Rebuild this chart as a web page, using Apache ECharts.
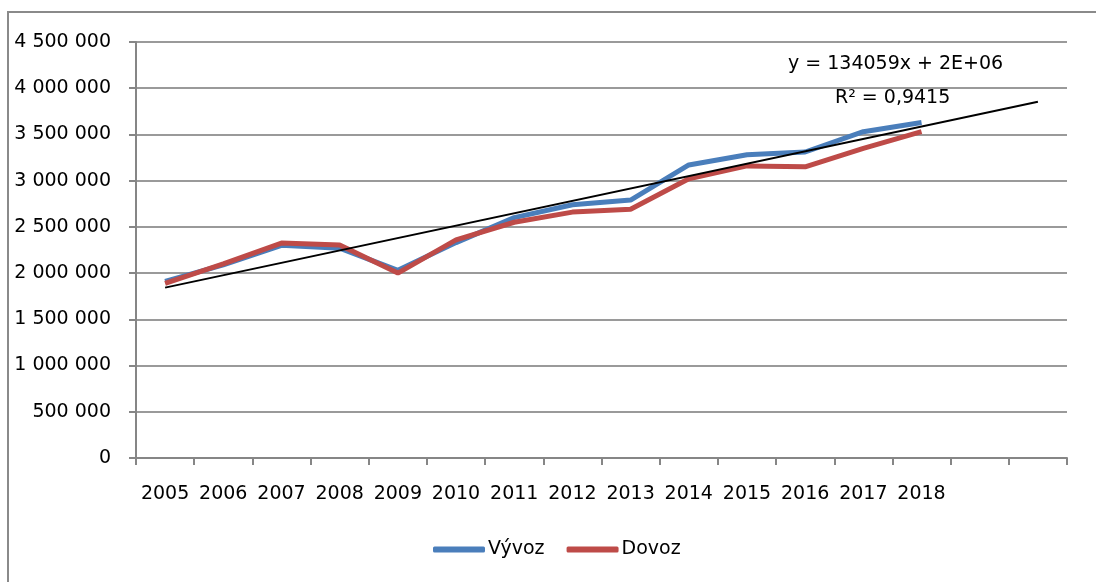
<!DOCTYPE html>
<html>
<head>
    <meta charset="utf-8">
    <title>Vývoz a dovoz</title>
    <script src="https://cdn.jsdelivr.net/npm/echarts@6/dist/echarts.min.js"></script>
    <style>
        html, body { margin: 0; padding: 0; background: #fff; }
    </style>
</head>
<body>
<div id="main" style="width: 1096px;height:582px;"></div>
<script type="text/javascript">
    // roky + dve prazdne pozice pro prodlouzeni trendu
    var years = ['2005', '2006', '2007', '2008', '2009', '2010', '2011', '2012', '2013', '2014', '2015', '2016', '2017', '2018', '', ''];
    var vyvoz = [1910000, 2090000, 2300000, 2270000, 2030000, 2330000, 2600000, 2740000, 2790000, 3170000, 3280000, 3310000, 3530000, 3630000];
    var dovoz = [1890000, 2100000, 2325000, 2305000, 2000000, 2360000, 2550000, 2660000, 2690000, 3020000, 3160000, 3150000, 3350000, 3530000];
    var trendSlope = 134059;
    var trendIntercept = 1709000;
    var trendLabel = ['y = 134059x + 2E+06', 'R² = 0,9415'];

    var font = 'DejaVu Sans';
    var gridColor = '#9a9a9a';

    function fmt(v) {
        return String(v).replace(/\B(?=(\d{3})+(?!\d))/g, ' ');
    }

    // trend od prvniho roku do posledni pozice osy
    var trendData = [
        [0, trendIntercept + trendSlope * 1],
        [years.length - 1, trendIntercept + trendSlope * years.length]
    ];

    var myChart = echarts.init(document.getElementById('main'));
    var option = {
        animation: false,
        backgroundColor: '#fff',
        textStyle: { fontFamily: font },
        grid: { left: 136, right: 29, top: 42, bottom: 124 },
        graphic: [
            {
                type: 'rect',
                shape: { x: 8, y: 12, width: 1200, height: 700 },
                style: { fill: 'none', stroke: '#8a8a8a', lineWidth: 2 },
                silent: true
            },
            {
                type: 'text',
                left: 788, top: 55,
                style: { text: trendLabel[0], font: '19px "DejaVu Sans"', fill: '#000' }
            },
            {
                type: 'text',
                left: 835, top: 89,
                style: { text: trendLabel[1], font: '19px "DejaVu Sans"', fill: '#000' }
            }
        ],
        legend: {
            data: ['Vývoz', 'Dovoz'],
            top: 535,
            left: 428,
            icon: 'roundRect',
            itemWidth: 52,
            itemHeight: 6,
            itemGap: 22,
            textStyle: { fontFamily: font, fontSize: 19, color: '#000', padding: [0, 0, 0, -2] }
        },
        xAxis: {
            type: 'category',
            data: years,
            boundaryGap: true,
            axisLine: { lineStyle: { color: '#868686', width: 2 } },
            axisTick: { show: true, interval: 0, length: 7, lineStyle: { color: '#868686', width: 2 } },
            axisLabel: { interval: 0, fontSize: 19, color: '#000', margin: 27, fontFamily: font },
            splitLine: { show: false }
        },
        yAxis: {
            type: 'value',
            min: 0,
            max: 4500000,
            interval: 500000,
            axisLine: { show: true, lineStyle: { color: '#868686', width: 2 } },
            axisTick: { show: true, length: 7, lineStyle: { color: '#868686', width: 2 } },
            axisLabel: { fontSize: 19, color: '#000', margin: 25, fontFamily: font, formatter: fmt },
            splitLine: { show: true, lineStyle: { color: gridColor, width: 2 } }
        },
        series: [
            {
                name: 'Vývoz',
                type: 'line',
                data: vyvoz,
                symbol: 'none',
                color: '#4a7ebb',
                lineStyle: { width: 5, color: '#4a7ebb' }
            },
            {
                name: 'Dovoz',
                type: 'line',
                data: dovoz,
                symbol: 'none',
                color: '#be4b48',
                lineStyle: { width: 5, color: '#be4b48' }
            },
            {
                name: 'Trend',
                type: 'line',
                data: trendData,
                symbol: 'none',
                color: '#000',
                lineStyle: { width: 2, color: '#000' },
                z: 3
            }
        ]
    };
    myChart.setOption(option);
</script>
</body>
</html>
